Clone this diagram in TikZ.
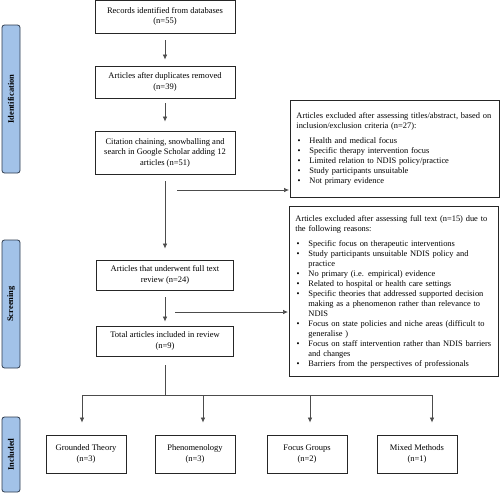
\documentclass[tikz,border=0pt]{standalone}
\usepackage{fontspec}
\setmainfont{Liberation Serif}
\usepackage{enumitem}
\usepackage{tikz}
\usetikzlibrary{arrows.meta, positioning, calc}
\definecolor{stagefill}{HTML}{A2C2E8}
\definecolor{stagedraw}{HTML}{2E3B4E}
\tikzset{
	box/.style={
		draw=black!85,
		line width=0.9pt,
		align=center,
		inner sep=2pt,
		minimum width=140pt,
		font=\fontsize{8.5}{10.5}\selectfont
	},
	exbox/.style={
		draw=black!85,
		line width=0.9pt,
		anchor=north west,
		text width=197pt,
		inner xsep=6pt,
		inner ysep=0pt,
		font=\fontsize{8.4}{10}\selectfont
	},
	stage/.style={
		draw=stagedraw,
		fill=stagefill,
		line width=0.8pt,
		rounded corners=2.5pt,
		rotate=90,
		minimum height=18pt,
		inner sep=0pt,
		font=\fontsize{8.5}{10}\selectfont\bfseries
	},
	conn/.style={
		draw=black!70,
		line width=0.7pt,
		-{Latex[length=5pt,width=4.5pt]}
	}
}
\setlist[itemize]{leftmargin=13pt, labelsep=9pt, itemsep=0pt, parsep=0pt, topsep=5pt, partopsep=0pt}

\begin{document}
\begin{tikzpicture}[x=1pt, y=-1pt]
	\useasboundingbox (0,0) rectangle (500,493);

	% main flow
	\node[box, minimum height=33pt] (rec) at (165,16.5) {Records identified from databases\\(n=55)};
	\node[box, minimum height=32pt] (dup) at (165,82) {Articles after duplicates removed\\(n=39)};
	\node[box, minimum height=43pt] (cit) at (165,152.5) {Citation chaining, snowballing and\\search in Google Scholar adding 12\\articles (n=51)};
	\node[box, minimum width=137pt, minimum height=30pt] (full) at (165,275) {Articles that underwent full text\\review (n=24)};
	\node[box, minimum width=137pt, minimum height=30pt] (total) at (165,341) {Total articles included in review\\(n=9)};

	% excluded records
	\node[exbox, minimum height=97pt] (excl1) at (290,100) {%
		Articles excluded after assessing titles/abstract, based on inclusion/exclusion criteria (n=27):
		\begin{itemize}
			\item Health and medical focus
			\item Specific therapy intervention focus
			\item Limited relation to NDIS policy/practice
			\item Study participants unsuitable
			\item Not primary evidence
		\end{itemize}};
	\node[exbox, minimum height=170pt] (excl2) at (289,206) {%
		Articles excluded after assessing full text (n=15) due to the following reasons:
		\begin{itemize}
			\item Specific focus on therapeutic interventions
			\item Study participants unsuitable NDIS policy and practice
			\item No primary (i.e. empirical) evidence
			\item Related to hospital or health care settings
			\item Specific theories that addressed supported decision making as a phenomenon rather than relevance to NDIS
			\item Focus on state policies and niche areas (difficult to generalise )
			\item Focus on staff intervention rather than NDIS barriers and changes
			\item Barriers from the perspectives of professionals
		\end{itemize}};

	% study designs
	\begin{scope}[every node/.style={box, minimum width=80pt, minimum height=38pt}]
	\node (gt) at (86,454) {Grounded Theory\\(n=3)};
	\node (phen) at (195,454) {Phenomenology\\(n=3)};
	\node (fg) at (307,454) {Focus Groups\\(n=2)};
	\node (mm) at (417,454) {Mixed Methods\\(n=1)};
	\end{scope}

	% stage labels
	\node[stage, minimum width=148pt] (ident) at (11,99) {Identification};
	\node[stage, minimum width=128pt] (screen) at (11,304) {Screening};
	\node[stage, minimum width=75pt] (incl) at (11,454.5) {Included};

	% connections
	\coordinate (out1) at (165,190);
	\coordinate (out2) at (165,312);
	\coordinate (split) at (165,395);
	\coordinate (sp1) at (82,395);
	\coordinate (sp2) at (203,395);
	\coordinate (sp3) at (310,395);
	\coordinate (sp4) at (432,395);

	\begin{scope}[conn]
	\draw[shorten <=7pt, shorten >=6pt] (rec) -- (dup);
	\draw[shorten <=5pt, shorten >=9pt] (dup) -- (cit);
	\draw[shorten <=7pt, shorten >=11pt] (cit) -- (full);
	\draw[shorten <=7pt, shorten >=4pt] (full) -- (total);
	\draw[shorten <=12pt, shorten >=1pt] (out1) -- (out1 -| excl1.west);
	\draw[shorten <=10pt, shorten >=1pt] (out2) -- (out2 -| excl2.west);
	\draw[-, shorten <=9pt] (total) -- (split);
	\draw[-] (sp1) -- (sp4);
	\draw[shorten >=12pt] (sp1) -- (sp1 |- gt.north);
	\draw[shorten >=12pt] (sp2) -- (sp2 |- phen.north);
	\draw[shorten >=12pt] (sp3) -- (sp3 |- fg.north);
	\draw[shorten >=12pt] (sp4) -- (sp4 |- mm.north);
	\end{scope}
\end{tikzpicture}
\end{document}
